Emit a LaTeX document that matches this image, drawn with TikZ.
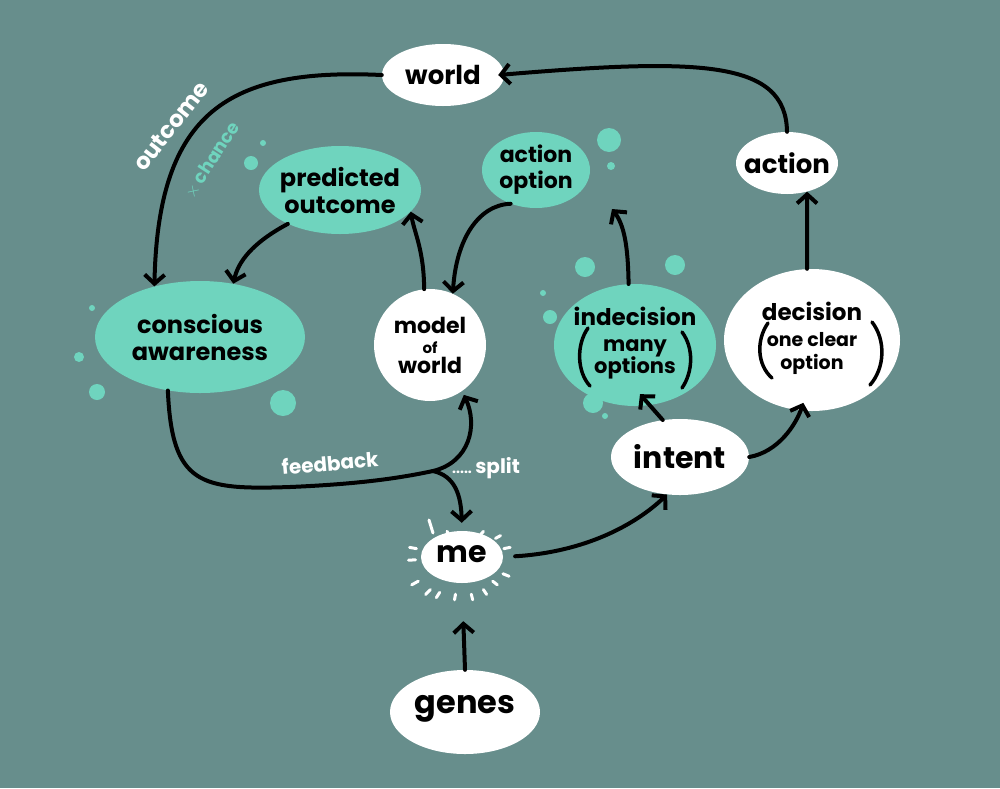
\documentclass[tikz,border=0pt]{standalone}
\usepackage{fontspec}
\setmainfont{Poppins}
\usetikzlibrary{arrows.meta,shapes.geometric,calc}
\definecolor{bg}{HTML}{678E8C}
\definecolor{mint}{HTML}{6FD4BE}
\begin{document}
\begin{tikzpicture}[x=1pt,y=-1pt,
  wblob/.style={ellipse, fill=white, draw=none, inner sep=0pt},
  mblob/.style={wblob, fill=mint},
  txt/.style={align=center, text=black, inner sep=0pt, font=\bfseries\fontsize{24}{27}\selectfont},
  arr/.style={line width=4pt, line cap=round, black, -{Straight Barb[length=9pt,width=20pt]}},
  paren/.style={line width=3.5pt, line cap=round, black},
  dot/.style={fill=mint, draw=none},
  ray/.style={white, line width=3pt, line cap=round},
  wlbl/.style={text=white, inner sep=0pt, font=\bfseries\fontsize{20}{20}\selectfont}
]
\useasboundingbox (0,0) rectangle (1000,788);
\fill[bg] (0,0) rectangle (1000,788);

% decorative dots
\foreach \x/\y/\r in {251/163/7, 263/143/3, 609/140/12, 611/166/4,
  585/267/10, 675/265/10, 543/293/3, 550/317/7, 593/403/10, 605/416/3,
  92/308/3, 79/357/5, 97/392/8, 283/403/13}
  \fill[dot] (\x,\y) circle[radius=\r pt];

% nodes
\node[wblob, minimum width=122pt, minimum height=62pt] (world) at (443,75) {};
\node[txt, font=\bfseries\fontsize{26}{28}\selectfont] at (world) {world};

\node[wblob, minimum width=102pt, minimum height=62pt] (action) at (787,163) {};
\node[txt, font=\bfseries\fontsize{26}{28}\selectfont] at (action) {action};

\node[mblob, minimum width=162pt, minimum height=88pt] (po) at (340,190) {};
\node[txt] at (po) {predicted\\outcome};

\node[mblob, minimum width=108pt, minimum height=76pt] (ao) at (536,170) {};
\node[txt, font=\bfseries\fontsize{22}{26}\selectfont] at (ao) {action\\option};

\node[mblob, minimum width=210pt, minimum height=112pt] (ca) at (200,337) {};
\node[txt] at (ca) {conscious\\awareness};

\node[wblob, minimum width=112pt, minimum height=112pt] (mw) at (430,345) {};
\node[txt, font=\bfseries\fontsize{22}{22}\selectfont] at (mw) {model\\[-2pt]{\fontsize{15}{15}\selectfont of}\\[-2pt]world};

\node[mblob, minimum width=162pt, minimum height=122pt] (ind) at (635,345) {};
\node[txt, font=\bfseries\fontsize{23}{25}\selectfont] at ([yshift=2pt]ind.center) {indecision\\[1pt]{\fontsize{21}{21}\selectfont many}\\[-3pt]{\fontsize{21}{21}\selectfont options}};
\draw[paren] (588,328) .. controls (576,345) and (577,372) .. (590,386);
\draw[paren] (682,332) .. controls (694,348) and (693,372) .. (682,388);

\node[wblob, minimum width=176pt, minimum height=142pt] (dec) at (812,340) {};
\node[txt, font=\bfseries\fontsize{23}{25}\selectfont] at ([yshift=2pt]dec.center) {decision\\[1pt]{\fontsize{19}{19}\selectfont one clear}\\[-2pt]{\fontsize{19}{19}\selectfont option}};
\draw[paren] (768,323) .. controls (756,340) and (757,365) .. (772,378);
\draw[paren] (872,322) .. controls (886,340) and (885,368) .. (870,385);

\node[wblob, minimum width=138pt, minimum height=76pt] (int) at (680,457) {};
\node[txt, font=\bfseries\fontsize{30}{30}\selectfont] at (int) {intent};

\node[wblob, minimum width=82pt, minimum height=52pt] (me) at (462,557) {};
\node[txt, font=\bfseries\fontsize{30}{30}\selectfont] at ([yshift=3pt]me.center) {me};

\node[wblob, minimum width=150pt, minimum height=84pt] (genes) at (465,712) {};
\node[txt, font=\bfseries\fontsize{32}{32}\selectfont] at ([yshift=3pt]genes.center) {genes};

% rays around me
\foreach \x/\y in {448/533, 482/533, 498/537, 507/548, 413/548, 412/560, 506/575,
  495/583, 415/583, 428/592, 438/595, 455/597, 472/597, 485/592}
  \draw[ray] ($(me.center)!0.93!(\x,\y)$) -- ($(me.center)!1.07!(\x,\y)$);
\draw[ray] (429,520) -- (433,533);

% connectors
\draw[arr] (world.west) .. controls (230,68) and (158,110) .. (ca.132);
\draw[arr] (action.north) .. controls (786,60) and (700,58) .. ([xshift=-6pt]world.east);
\draw[arr] ([xshift=-5pt]dec.north) -- (action.-55);
\draw[arr] (po.213) .. controls (252,243) and (238,262) .. (ca.58);
\draw[arr] (mw.96) .. controls (424,250) and (414,232) .. (po.-17);
\draw[arr] (ao.233) .. controls (478,205) and (456,240) .. (mw.66);
\coordinate (indtip) at (612,209);
\draw[arr] (ind.96) .. controls (628,245) and (624,225) .. (indtip);
\draw[arr] (int.115) -- ([xshift=5pt,yshift=12pt]ind.south);
\draw[arr] (int.east) .. controls (778,452) and (796,425) .. ([yshift=8pt]dec.263);
\draw[arr, shorten <=12pt] (me.east) .. controls (585,552) and (635,525) .. (int.251);
\draw[arr, shorten >=38pt] (genes.north) -- (me.south);
\draw[line width=4pt, line cap=round] (ca.239) .. controls (172,485) and (200,490) .. (290,487)
  .. controls (360,484) and (400,478) .. (433,471) coordinate (split);
\draw[arr] (split) .. controls (470,462) and (478,425) .. ([yshift=-5pt]mw.-53);
\draw[arr, shorten >=8pt] (split) .. controls (455,476) and (461,495) .. (me.north);

% labels
\node[wlbl, rotate=5] (fb) at (330,463) {feedback};
\node[wlbl, anchor=west] (sp) at (452,468) {{\fontsize{14}{14}\selectfont.....}\,split};
\node[wlbl, rotate=52, font=\bfseries\fontsize{23}{23}\selectfont] (oc) at (171,126) {outcome};
\node[wlbl, rotate=57, text=mint, font=\bfseries\fontsize{18}{18}\selectfont] (ch) at (212,160) {$\times$ chance};
\end{tikzpicture}
\end{document}
